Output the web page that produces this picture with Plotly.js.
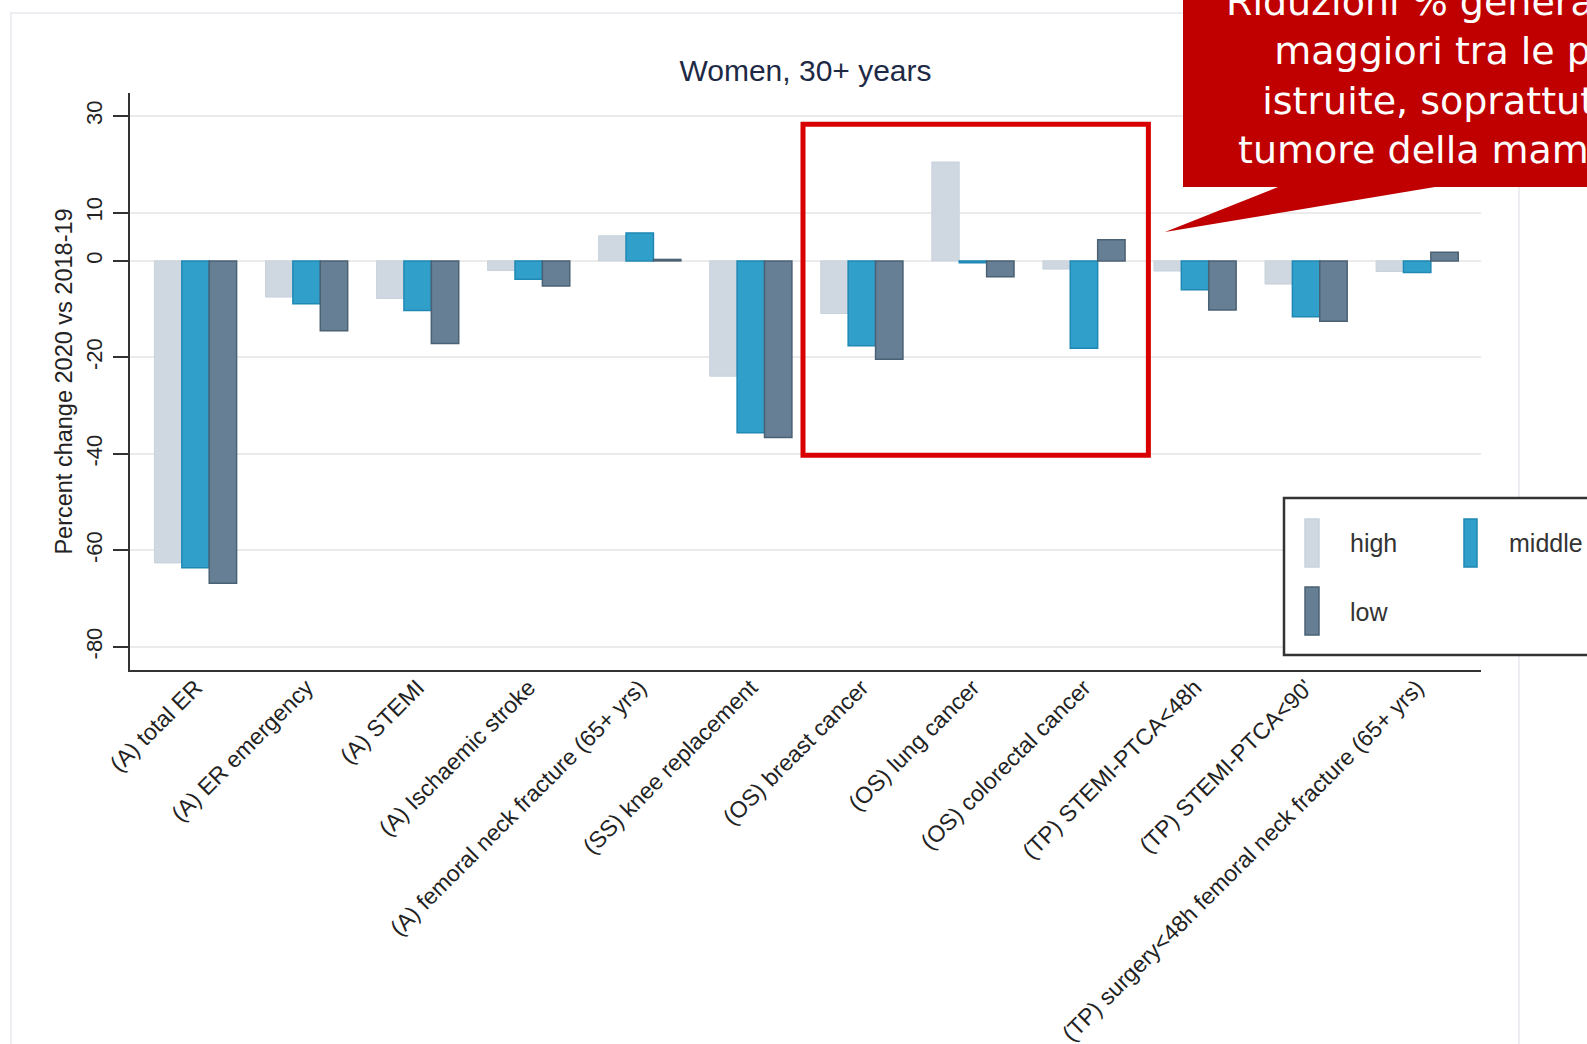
<!DOCTYPE html>
<html>
<head>
<meta charset="utf-8">
<script src="https://cdn.plot.ly/plotly-3.0.1.min.js"></script>
<style>
  html, body { margin:0; padding:0; background:#ffffff; overflow:hidden; }
  #chart { width:1587px; height:1044px; }
</style>
</head>
<body>
<div id="chart"></div>
<script>
// ---- data ----
const categories = [
  "(A) total ER",
  "(A) ER emergency",
  "(A) STEMI",
  "(A) Ischaemic stroke",
  "(A) femoral neck fracture (65+ yrs)",
  "(SS) knee replacement",
  "(OS) breast cancer",
  "(OS) lung cancer",
  "(OS) colorectal cancer",
  "(TP) STEMI-PTCA<48h",
  "(TP) STEMI-PTCA<90'",
  "(TP) surgery<48h femoral neck fracture (65+ yrs)"
];
const seriesNames = ["high", "middle", "low"];
const highValues   = [-62.6, -7.5, -7.8, -2.0, 5.2, -23.9, -10.9, 20.5, -1.7, -2.1, -4.8, -2.2];
const middleValues = [-63.6, -8.9, -10.3, -3.8, 5.8, -35.6, -17.6, -0.4, -18.1, -6.0, -11.6, -2.4];
const lowValues    = [-66.8, -14.5, -17.1, -5.2, 0.3, -36.6, -20.4, -3.3, 4.4, -10.2, -12.5, 1.8];
const yTickValues  = [30, 10, 0, -20, -40, -60, -80];
const titleText = "Women, 30+ years";
const yTitleText = "Percent change 2020 vs 2018-19";
const calloutLines = [
  "Riduzioni % generalmente",
  "maggiori tra le persone meno",
  "istruite, soprattutto per il",
  "tumore della mammella"
];

// ---- styles ----
const fills = ["#cfd8e1", "#30a0cb", "#667f94"];
const edges = ["#c8d2dc", "#1f88b4", "#4b6174"];
const FONT = "Arial, 'Liberation Sans', sans-serif";

// plot-area pixel frame
const L = 130, R = 1481, T = 93, B = 670;
const px = x => (x - L) / (R - L);
const py = y => (B - y) / (B - T);

const allSeries = [highValues, middleValues, lowValues];
const traces = allSeries.map((vals, i) => ({
  type: "bar",
  name: seriesNames[i],
  x: categories,
  y: vals,
  marker: { color: fills[i], line: { color: edges[i], width: i === 0 ? 1 : 1.5 } },
  showlegend: false,
  hoverinfo: "x+y+name"
}));

// callout polygon (pixel coords -> paper)
const calloutPts = [[1183,-30],[1183,187],[1278,187],[1165,232],[1435,187],[1760,187],[1760,-30]];
const calloutPath = "M" + calloutPts.map(p => px(p[0]) + "," + py(p[1])).join("L") + "Z";

const shapes = [
  // faint outer frame
  { type:"rect", xref:"paper", yref:"paper", x0:px(11), x1:px(1519), y0:py(1070), y1:py(13),
    line:{ color:"#eceef1", width:2 }, fillcolor:"rgba(0,0,0,0)", layer:"below" },
  // red highlight rectangle
  { type:"rect", xref:"x", yref:"y", x0:5.47, x1:8.58, y0:-40.3, y1:28.3,
    line:{ color:"#d90000", width:5 }, fillcolor:"rgba(0,0,0,0)", layer:"above" },
  // callout
  { type:"path", xref:"paper", yref:"paper", path: calloutPath,
    fillcolor:"#c00000", line:{ width:0 }, layer:"above" },
  // legend box
  { type:"rect", xref:"paper", yref:"paper", x0:px(1284), x1:px(1760), y0:py(655), y1:py(498),
    fillcolor:"#ffffff", line:{ color:"#333333", width:2.5 }, layer:"above" }
];

// legend symbols & labels
const legendSym = [[1305,519,1319,567],[1464,519,1477,567],[1305,587,1319,635]];
const legendTxt = [[1348,543],[1507,543],[1348,612]];
legendSym.forEach((s, i) => {
  shapes.push({ type:"rect", xref:"paper", yref:"paper", x0:px(s[0]), x1:px(s[2]), y0:py(s[3]), y1:py(s[1]),
    fillcolor: fills[i], line:{ color: edges[i], width:1.5 }, layer:"above" });
});

const annotations = [];
legendTxt.forEach((t, i) => {
  annotations.push({ xref:"paper", yref:"paper", x:px(t[0]), y:py(t[1]), xanchor:"left", yanchor:"middle",
    text: seriesNames[i], showarrow:false, font:{ family:FONT, size:25, color:"#333333" } });
});

// callout text: one block, per-line indents so the visible parts line up like the centred original
const NB = "\u00A0";
const indents = [0, 4, 3, 1];
const calloutText = calloutLines.map((l, i) => NB.repeat(indents[i]) + l).join("<br>");
annotations.push({ xref:"paper", yref:"paper", x:px(1224), y:py(76),
  xanchor:"left", yanchor:"middle", align:"left", text: calloutText, showarrow:false,
  font:{ family:"'DejaVu Sans', sans-serif", size:38, color:"#ffffff" } });

const layout = {
  width: 1587, height: 1044,
  margin: { l: L, r: 1587 - R, t: T, b: 1044 - B, pad: 0 },
  paper_bgcolor: "#ffffff",
  plot_bgcolor: "#ffffff",
  font: { family: FONT, color: "#222222" },
  title: { text: titleText, font: { family: FONT, size: 30, color: "#1e2a45" },
           x: 0.5, xref: "paper", xanchor: "center", y: 1 - 70/1044, yref: "container", yanchor: "middle" },
  barmode: "group",
  bargap: 0.26,
  bargroupgap: 0,
  xaxis: {
    type: "category",
    range: [-0.59, 11.575],
    tickangle: -45,
    tickfont: { family: FONT, size: 23, color: "#222222" },
    ticklabelstandoff: -7,
    showline: true, linecolor: "#333333", linewidth: 2,
    ticks: "", showgrid: false, zeroline: false,
    fixedrange: true
  },
  yaxis: {
    range: [-84.8, 34.8],
    tickvals: yTickValues,
    ticktext: yTickValues.map(String),
    tickangle: -90,
    tickfont: { family: FONT, size: 22, color: "#222222" },
    ticklabelstandoff: 2,
    ticks: "outside", ticklen: 15, tickwidth: 2, tickcolor: "#333333",
    showline: true, linecolor: "#333333", linewidth: 2,
    showgrid: true, gridcolor: "#ebebeb", gridwidth: 2,
    zeroline: false,
    title: { text: yTitleText, font: { family: FONT, size: 23.5, color: "#222222" }, standoff: 3 },
    fixedrange: true
  },
  shapes: shapes,
  annotations: annotations,
  showlegend: false
};

Plotly.newPlot("chart", traces, layout, { displayModeBar: false, staticPlot: true });
</script>
</body>
</html>
